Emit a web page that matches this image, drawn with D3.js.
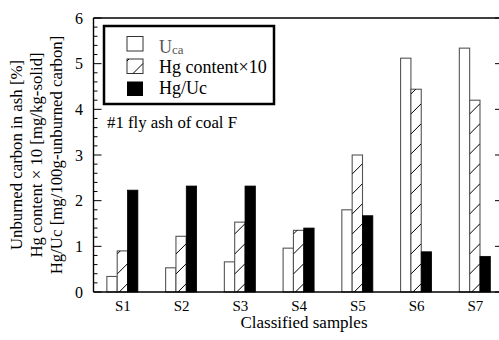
<!DOCTYPE html>
<html>
<head>
<meta charset="utf-8">
<script src="https://cdn.jsdelivr.net/npm/d3@7"></script>
<style>
  html, body { margin: 0; padding: 0; background: #fff; }
  svg { display: block; }
  text { font-family: "Liberation Serif", "Times New Roman", serif; fill: #000; }
</style>
</head>
<body>
<svg id="chart" width="499" height="340"></svg>
<script>
const categories = ["S1", "S2", "S3", "S4", "S5", "S6", "S7"];
const seriesNames = ["Uca", "Hg content×10", "Hg/Uc"];
const ucaValues = [0.34, 0.53, 0.66, 0.96, 1.80, 5.12, 5.34];
const hgContentValues = [0.90, 1.22, 1.53, 1.35, 3.00, 4.44, 4.20];
const hgUcValues = [2.23, 2.32, 2.32, 1.40, 1.67, 0.88, 0.78];
const yTicks = [0, 1, 2, 3, 4, 5, 6];
const yTitleLines = ["Unburned carbon in ash [%]", "Hg content × 10 [mg/kg-solid]", "Hg/Uc [mg/100g-unburned carbon]"];
const xTitle = "Classified samples";
const annotation = "#1 fly ash of coal F";

const seriesValues = [ucaValues, hgContentValues, hgUcValues];

const svg = d3.select("#chart");
const mLeft = 93.5, mRight = 502, mTop = 18, mBottom = 292;

const x0 = d3.scaleBand().domain(categories).range([mLeft, 504.7]).padding(0);
const bw = x0.bandwidth();
const groupW = 31;
const x1 = d3.scaleBand().domain(seriesNames).range([(bw - groupW) / 2 - 0.5, (bw + groupW) / 2 - 0.5]).padding(0);
const y = d3.scaleLinear().domain([0, 6]).range([mBottom, mTop]);

const defs = svg.append("defs");

const rows = [];
categories.forEach((c, i) => {
  seriesNames.forEach((s, j) => {
    rows.push({ cat: c, series: s, idx: j, value: seriesValues[j][i] });
  });
});

const barG = svg.append("g");
rows.forEach((d, k) => {
  const bx = x0(d.cat) + x1(d.series);
  const w = x1.bandwidth();
  const by = y(d.value);
  const h = y(0) - by;
  if (d.idx === 2) {
    barG.append("rect").attr("x", bx).attr("y", by).attr("width", w).attr("height", h)
      .attr("fill", "#000").attr("stroke", "#000").attr("stroke-width", 0.8);
  } else {
    barG.append("rect").attr("x", bx).attr("y", by).attr("width", w).attr("height", h)
      .attr("fill", "#fff").attr("stroke", "#555").attr("stroke-width", 1.1);
    if (d.idx === 1) {
      const cid = "clip" + k;
      defs.append("clipPath").attr("id", cid).append("rect")
        .attr("x", bx).attr("y", by).attr("width", w).attr("height", h);
      const hg = barG.append("g").attr("clip-path", `url(#${cid})`);
      for (let yy = y(0) + 2; yy > by - w; yy -= 20) {
        hg.append("line").attr("x1", bx).attr("y1", yy).attr("x2", bx + w).attr("y2", yy - w)
          .attr("stroke", "#000").attr("stroke-width", 1);
      }
    }
  }
});

const frame = svg.append("g").attr("stroke", "#000").attr("fill", "none");
frame.append("line").attr("x1", mLeft).attr("x2", mLeft).attr("y1", mTop).attr("y2", mBottom).attr("stroke-width", 1.4);
frame.append("line").attr("x1", mLeft).attr("x2", mRight).attr("y1", mBottom).attr("y2", mBottom).attr("stroke-width", 1.4);
frame.append("line").attr("x1", mLeft).attr("x2", mRight).attr("y1", mTop).attr("y2", mTop).attr("stroke-width", 1.4);
frame.append("line").attr("x1", mRight).attr("x2", mRight).attr("y1", mTop).attr("y2", mBottom).attr("stroke-width", 1.4);

const minor = d3.range(0, 6.0001, 0.2).filter(v => Math.abs(v - Math.round(v)) > 1e-6);
svg.append("g").selectAll("line").data(minor).join("line")
  .attr("x1", mLeft).attr("x2", mLeft + 4).attr("y1", d => y(d)).attr("y2", d => y(d))
  .attr("stroke", "#000").attr("stroke-width", 1);
svg.append("g").selectAll("line").data(yTicks).join("line")
  .attr("x1", mLeft).attr("x2", mLeft + 8).attr("y1", d => y(d)).attr("y2", d => y(d))
  .attr("stroke", "#000").attr("stroke-width", 1);
svg.append("g").selectAll("line").data(yTicks).join("line")
  .attr("x1", mRight - 7).attr("x2", mRight).attr("y1", d => y(d)).attr("y2", d => y(d))
  .attr("stroke", "#000").attr("stroke-width", 1);

svg.append("g").selectAll("text").data(yTicks).join("text")
  .attr("x", 83).attr("y", d => y(d)).attr("dy", "0.35em").attr("text-anchor", "end")
  .attr("font-size", 16).text(d => d);

svg.append("g").selectAll("text").data(categories).join("text")
  .attr("x", d => x0(d) + bw / 2).attr("y", 311).attr("text-anchor", "middle")
  .attr("font-size", 15).text(d => d);

svg.append("text").attr("x", 304).attr("y", 327.5).attr("text-anchor", "middle")
  .attr("font-size", 17).text(xTitle);

const yt = svg.append("g").attr("transform", "translate(0,155) rotate(-90)");
yTitleLines.forEach((t, i) => {
  yt.append("text").attr("x", 0).attr("y", 21.5 + i * 20.2).attr("text-anchor", "middle")
    .attr("font-size", 16.8).text(t);
});

svg.append("text").attr("x", 107).attr("y", 127.5).attr("font-size", 16.8).text(annotation);

const lg = svg.append("g");
lg.append("rect").attr("x", 104).attr("y", 26).attr("width", 170).attr("height", 78)
  .attr("fill", "#fff").attr("stroke", "#000").attr("stroke-width", 2.5);
const sw = { x: 127, w: 16, h: 14.5 };
const rowY = [36.5, 59, 81.5];
const baseY = [52.5, 73.3, 94];
seriesNames.forEach((s, j) => {
  const sy = rowY[j];
  if (j === 2) {
    lg.append("rect").attr("x", sw.x).attr("y", sy).attr("width", sw.w).attr("height", sw.h).attr("fill", "#000");
  } else {
    lg.append("rect").attr("x", sw.x).attr("y", sy).attr("width", sw.w).attr("height", sw.h)
      .attr("fill", "#fff").attr("stroke", "#333").attr("stroke-width", 1);
    if (j === 1) {
      lg.append("line").attr("x1", sw.x + 6).attr("y1", sy + sw.h).attr("x2", sw.x + sw.w).attr("y2", sy + sw.h - 10)
        .attr("stroke", "#000").attr("stroke-width", 1);
      lg.append("line").attr("x1", sw.x).attr("y1", sy + 2).attr("x2", sw.x + 2).attr("y2", sy)
        .attr("stroke", "#000").attr("stroke-width", 1);
    }
  }
  const t = lg.append("text").attr("x", 159).attr("y", baseY[j]).attr("font-size", 18);
  if (j === 0) {
    t.style("fill", "#555");
    t.append("tspan").text("U");
    t.append("tspan").attr("font-size", 13).attr("dy", 1).text("ca");
  } else {
    t.text(s);
  }
});
</script>
</body>
</html>
